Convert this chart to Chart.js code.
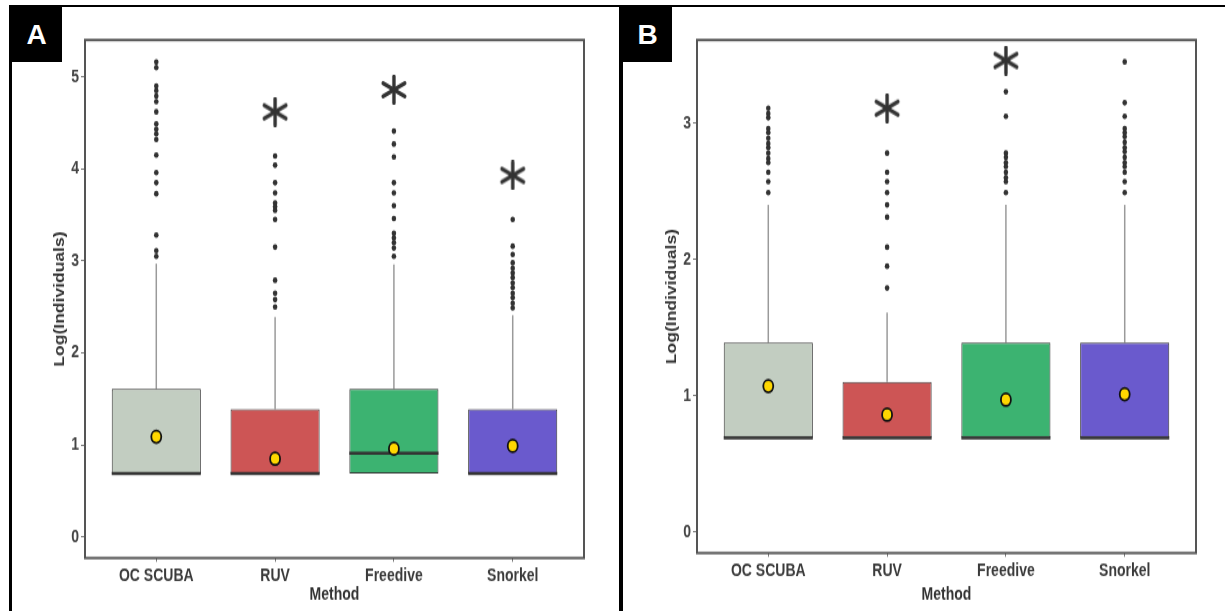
<!DOCTYPE html>
<html lang="en">
<head>
<meta charset="UTF-8" />
<title>Log(Individuals) by Method</title>
<script src="https://cdn.jsdelivr.net/npm/chart.js"></script>
<style>
  body {
    margin: 0;
    width: 1225px;
    height: 611px;
    position: relative;
    overflow: hidden;
    background: #fff;
    font-family: 'Liberation Sans', Arial, sans-serif;
  }
  .panel-frame {
    position: absolute;
    top: 5px;
    bottom: 0;
    border-top: 2px solid #000;
  }
  #frameA { left: 9px; width: 607px; border-left: 3px solid #000; }
  #frameB { left: 619px; right: 0; border-left: 4px solid #000; }
  /* the figure is drawn 484px tall and stretched to 605px */
  .plot {
    position: absolute;
    top: 6px;
    height: 484px;
    transform: scaleY(1.25);
    transform-origin: 0 0;
  }
  #plotA { left: 10px; width: 600px; }
  #plotB { left: 622px; width: 603px; }
  .tag {
    position: absolute;
    top: 6px;
    height: 56px;
    background: #000;
    color: #fff;
    font-weight: bold;
    font-size: 28px;
    line-height: 58px;
    text-align: center;
    z-index: 2;
  }
  #tagA { left: 11px; width: 51px; }
  #tagB { left: 623px; width: 49px; }
</style>
</head>
<body>
  <div class="panel-frame" id="frameA"></div>
  <div class="panel-frame" id="frameB"></div>
  <div class="plot" id="plotA"><canvas id="chartA" width="600" height="484"></canvas></div>
  <div class="plot" id="plotB"><canvas id="chartB" width="603" height="484"></canvas></div>
  <div class="tag" id="tagA">A</div>
  <div class="tag" id="tagB">B</div>

<script>
const methods = ['OC SCUBA', 'RUV', 'Freedive', 'Snorkel'];

// Panel A
const aTicks = [0, 1, 2, 3, 4, 5];
const aQ1 = [0.69, 0.69, 0.69, 0.69];
const aMedian = [0.69, 0.69, 0.91, 0.69];
const aQ3 = [1.61, 1.39, 1.61, 1.39];
const aUpper = [2.97, 2.39, 2.96, 2.41];
const aMean = [1.09, 0.85, 0.96, 0.99];
const aOutScuba = [5.16, 5.10, 4.90, 4.85, 4.79, 4.73, 4.62, 4.49, 4.43, 4.38, 4.32, 4.15, 3.96, 3.85, 3.73, 3.28, 3.11, 3.05];
const aOutRuv = [4.14, 4.04, 3.85, 3.74, 3.63, 3.59, 3.55, 3.45, 3.15, 2.79, 2.65, 2.58, 2.50];
const aOutFree = [4.41, 4.27, 4.13, 3.85, 3.74, 3.60, 3.46, 3.30, 3.25, 3.20, 3.14, 3.05];
const aOutSnork = [3.45, 3.16, 3.07, 2.98, 2.92, 2.87, 2.82, 2.76, 2.71, 2.65, 2.60, 2.54, 2.49];
const aStars = [null, 4.62, 4.86, 3.93];

// Panel B
const bTicks = [0, 1, 2, 3];
const bQ1 = [0.69, 0.69, 0.69, 0.69];
const bMedian = [0.69, 0.69, 0.69, 0.69];
const bQ3 = [1.39, 1.10, 1.39, 1.39];
const bUpper = [2.40, 1.61, 2.40, 2.40];
const bMean = [1.07, 0.86, 0.97, 1.01];
const bOutScuba = [3.11, 3.07, 3.04, 2.96, 2.93, 2.89, 2.85, 2.82, 2.78, 2.74, 2.71, 2.64, 2.57, 2.49];
const bOutRuv = [2.78, 2.64, 2.57, 2.49, 2.40, 2.31, 2.09, 1.95, 1.79];
const bOutFree = [3.23, 3.05, 2.78, 2.75, 2.71, 2.68, 2.64, 2.60, 2.57, 2.49];
const bOutSnork = [3.45, 3.15, 3.05, 2.96, 2.93, 2.90, 2.86, 2.82, 2.79, 2.75, 2.71, 2.68, 2.64, 2.57, 2.49];
const bStars = [null, 3.11, 3.46, null];

const boxFill = ['#c2cdc1', '#cd5555', '#3cb371', '#6a5acd'];

Chart.defaults.font.family = "'Liberation Sans', Arial, sans-serif";

// six-armed asterisk marker for the significance stars (flattened, the plot is stretched later)
const starImg = document.createElement('canvas');
starImg.width = 28;
starImg.height = 24;
(function () {
  const c = starImg.getContext('2d');
  const cx = 14, cy = 12, rx = 12.5, ry = 10.5;
  c.strokeStyle = '#333';
  c.lineWidth = 3.4;
  c.lineCap = 'round';
  for (let k = 0; k < 3; k++) {
    const a = Math.PI / 2 + k * Math.PI / 3;
    c.beginPath();
    c.moveTo(cx + rx * Math.cos(a), cy + ry * Math.sin(a));
    c.lineTo(cx - rx * Math.cos(a), cy - ry * Math.sin(a));
    c.stroke();
  }
})();

const tickFont = { size: 14, weight: 'bold' };
const titleFont = { size: 14, weight: 'bold' };

function boxPanel(id, q1, median, q3, upper, mean, outliers, stars, yMin, yMax, yTicks, padRight, xHeight) {
  // whiskers under the boxes, medians on top of them, frame round the plot area
  const boxParts = {
    id: 'boxParts',
    beforeDatasetDraw(chart, args) {
      if (args.index !== 0) return;
      const y = chart.scales.y, ctx = chart.ctx;
      ctx.save();
      ctx.strokeStyle = '#9a9a9a';
      ctx.lineWidth = 1.5;
      args.meta.data.forEach((bar, i) => {
        ctx.beginPath();
        ctx.moveTo(bar.x, y.getPixelForValue(q3[i]));
        ctx.lineTo(bar.x, y.getPixelForValue(upper[i]));
        ctx.stroke();
      });
      ctx.restore();
    },
    afterDatasetDraw(chart, args) {
      if (args.index !== 0) return;
      const y = chart.scales.y, ctx = chart.ctx;
      ctx.save();
      ctx.strokeStyle = '#333';
      ctx.lineWidth = 2.4;
      args.meta.data.forEach((bar, i) => {
        const py = y.getPixelForValue(median[i]);
        ctx.beginPath();
        ctx.moveTo(bar.x - bar.width / 2, py);
        ctx.lineTo(bar.x + bar.width / 2, py);
        ctx.stroke();
      });
      ctx.restore();
    },
    afterDatasetsDraw(chart) {
      const a = chart.chartArea, ctx = chart.ctx;
      ctx.save();
      ctx.strokeStyle = '#555';
      ctx.lineWidth = 2;
      ctx.strokeRect(a.left, a.top, a.right - a.left, a.bottom - a.top);
      ctx.restore();
    }
  };

  return new Chart(document.getElementById(id), {
    type: 'bar',
    data: {
      datasets: [
        {
          type: 'bar',
          data: methods.map((m, i) => ({ x: i + 1, y: [q1[i], q3[i]] })),
          backgroundColor: boxFill,
          borderColor: '#333',
          borderWidth: 1,
          borderSkipped: false,
          barPercentage: 0.75,
          categoryPercentage: 1,
          order: 3
        },
        {
          type: 'scatter',
          data: outliers.flatMap((list, i) => list.map(v => ({ x: i + 1, y: v }))),
          pointRadius: 2.3,
          pointBackgroundColor: '#333',
          pointBorderWidth: 0,
          order: 2
        },
        {
          type: 'scatter',
          data: stars.map((v, i) => v == null ? null : { x: i + 1, y: v }).filter(Boolean),
          pointStyle: starImg,
          order: 1
        },
        {
          type: 'scatter',
          data: mean.map((v, i) => ({ x: i + 1, y: v })),
          pointRadius: 5,
          pointBackgroundColor: '#ffd700',
          pointBorderColor: '#111',
          pointBorderWidth: 1.8,
          order: 0
        }
      ]
    },
    options: {
      responsive: false,
      animation: false,
      events: [],
      layout: { padding: { left: 40, top: 27.2, right: padRight, bottom: 0 } },
      plugins: {
        legend: { display: false },
        tooltip: { enabled: false }
      },
      scales: {
        x: {
          type: 'linear',
          min: 0.4,
          max: 4.6,
          offset: false,
          afterBuildTicks: s => { s.ticks = methods.map((m, i) => ({ value: i + 1 })); },
          afterFit: s => { s.height = xHeight; },
          grid: { offset: false, drawOnChartArea: false, tickLength: 3, color: '#777' },
          border: { display: false },
          ticks: {
            font: tickFont,
            color: '#3a3a3a',
            padding: 3,
            maxRotation: 0,
            autoSkip: false,
            callback: v => methods[v - 1]
          },
          title: { display: true, text: 'Method', font: titleFont, color: '#333', padding: { top: 0, bottom: 4.4 } }
        },
        y: {
          min: yMin,
          max: yMax,
          afterBuildTicks: s => { s.ticks = yTicks.map(v => ({ value: v })); },
          afterFit: s => { s.width = 35; },
          grid: { drawOnChartArea: false, tickLength: 4, color: '#777' },
          border: { display: false },
          ticks: { font: tickFont, color: '#444', padding: 2 },
          title: { display: true, text: 'Log(Individuals)', font: titleFont, color: '#333', padding: { top: 2, bottom: 0 } }
        }
      }
    },
    plugins: [boxParts]
  });
}

boxPanel('chartA', aQ1, aMedian, aQ3, aUpper, aMean,
  [aOutScuba, aOutRuv, aOutFree, aOutSnork], aStars, -0.228, 5.40, aTicks, 26, 42.4);

boxPanel('chartB', bQ1, bMedian, bQ3, bUpper, bMean,
  [bOutScuba, bOutRuv, bOutFree, bOutSnork], bStars, -0.155, 3.61, bTicks, 29, 46.4);
</script>
</body>
</html>
